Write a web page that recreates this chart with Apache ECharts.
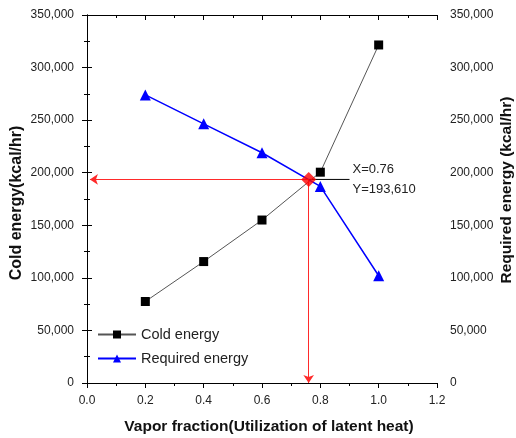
<!DOCTYPE html>
<html>
<head>
<meta charset="utf-8">
<script src="https://cdn.jsdelivr.net/npm/echarts@6/dist/echarts.min.js"></script>
<style>
  html, body { margin: 0; padding: 0; background: #fff; }
</style>
</head>
<body>
<div id="chart" style="width: 516px; height: 438px;"></div>
<script>
// data
const vaporFraction = [0.2, 0.4, 0.6, 0.8, 1.0];
const coldEnergy = [77500, 115500, 155000, 200500, 321500];
const requiredEnergy = [274000, 246500, 219000, 187000, 102000];
const crossX = 0.76;
const crossY = 193610;
const labelEndX = 0.9;

const fmt = (v) => v.toLocaleString("en-US");

const myChart = echarts.init(document.getElementById("chart"));

const yAxisBase = {
  type: "value",
  min: 0,
  max: 350000,
  interval: 50000,
  nameLocation: "middle",
  nameMoveOverlap: false,
  axisLine: { show: true, lineStyle: { color: "#000", width: 1 } },
  axisTick: { show: true, inside: false, length: 5, lineStyle: { color: "#000" } },
  minorTick: { show: true, splitNumber: 2, length: 3, lineStyle: { color: "#000" } },
  splitLine: { show: false },
  axisLabel: { formatter: fmt, color: "#222", fontSize: 12, margin: 13 },
};

let option = {
  animation: false,
  textStyle: { fontFamily: "Liberation Sans, Arial, sans-serif" },
  grid: { left: 87, right: 79, top: 15, bottom: 55, containLabel: false, outerBoundsMode: "none" },
  legend: {
    left: 92,
    top: 322,
    orient: "vertical",
    itemWidth: 38,
    itemHeight: 10,
    itemGap: 9,
    textStyle: { fontSize: 14.5, color: "#222" },
    data: ["Cold energy", "Required energy"],
  },
  xAxis: [
    {
      type: "value",
      min: 0,
      max: 1.2,
      interval: 0.2,
      name: "Vapor fraction(Utilization of latent heat)",
      nameLocation: "middle",
      nameMoveOverlap: false,
      nameGap: 36,
      nameTextStyle: { fontWeight: "bold", fontSize: 15.5, color: "#111", padding: [0, 0, 0, 14] },
      axisLine: { show: true, onZero: false, lineStyle: { color: "#000" } },
      axisTick: { show: true, length: 5, lineStyle: { color: "#000" } },
      minorTick: { show: true, splitNumber: 2, length: 3, lineStyle: { color: "#000" } },
      splitLine: { show: false },
      axisLabel: { formatter: (v) => v.toFixed(1), color: "#222", fontSize: 12, margin: 12 },
    },
    {
      type: "value",
      position: "top",
      min: 0,
      max: 1.2,
      interval: 0.2,
      axisLine: { show: true, onZero: false, lineStyle: { color: "#000" } },
      axisTick: { show: true, inside: true, length: 5, lineStyle: { color: "#000" } },
      minorTick: { show: true, splitNumber: 2, length: 3, lineStyle: { color: "#000" } },
      splitLine: { show: false },
      axisLabel: { show: false },
    },
  ],
  yAxis: [
    Object.assign({}, yAxisBase, {
      position: "left",
      name: "Cold energy(kcal/hr)",
      nameGap: 62,
      nameTextStyle: { fontWeight: "bold", fontSize: 16, color: "#111", padding: [0, 8, 0, 0] },
    }),
    Object.assign({}, yAxisBase, {
      position: "right",
      name: "Required energy (kcal/hr)",
      nameGap: 62,
      nameTextStyle: { fontWeight: "bold", fontSize: 15.5, color: "#111", padding: [0, 0, 0, 18] },
    }),
  ],
  series: [
    {
      name: "Cold energy",
      type: "line",
      data: vaporFraction.map((x, i) => [x, coldEnergy[i]]),
      symbol: "rect",
      symbolSize: 9,
      itemStyle: { color: "#000" },
      lineStyle: { color: "#555", width: 1 },
      z: 3,
    },
    {
      name: "Required energy",
      type: "line",
      data: vaporFraction.map((x, i) => [x, requiredEnergy[i]]),
      symbol: "triangle",
      symbolSize: 11,
      itemStyle: { color: "#0000ff" },
      lineStyle: { color: "#0000ff", width: 1.5 },
      z: 3,
    },
    {
      name: "readout",
      type: "line",
      data: [[crossX, crossY], [labelEndX, crossY]],
      symbol: "none",
      lineStyle: { color: "#000", width: 1 },
      endLabel: {
        show: true,
        distance: 3,
        align: "left",
        color: "#222",
        fontSize: 13,
        lineHeight: 20,
        formatter: () => "X=" + crossX + "\nY=" + fmt(crossY),
      },
      z: 2,
    },
    {
      name: "cross",
      type: "scatter",
      data: [[crossX, crossY]],
      symbol: "diamond",
      symbolSize: 15,
      itemStyle: { color: "#ff0000" },
      z: 5,
      markLine: {
        silent: true,
        symbol: ["none", "arrow"],
        symbolSize: 8,
        lineStyle: { color: "#ff2a2a", width: 1, type: "solid" },
        label: { show: false },
        data: [
          [{ coord: [crossX, crossY] }, { coord: [0.01, crossY] }],
          [{ coord: [crossX, crossY] }, { coord: [crossX, 0] }],
        ],
      },
    },
  ],
};

myChart.setOption(option);
</script>
</body>
</html>
